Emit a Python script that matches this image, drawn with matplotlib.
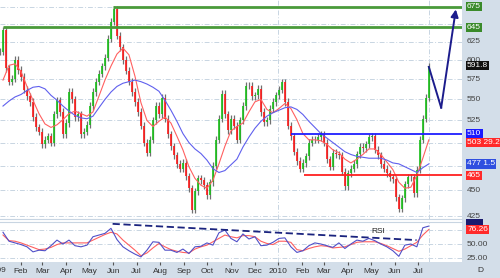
import numpy as np
import pandas as pd
import matplotlib
matplotlib.use('Agg')
import matplotlib.pyplot as plt
import matplotlib.dates as mdates
from matplotlib.patches import Rectangle
from matplotlib.ticker import NullLocator
from matplotlib.transforms import blended_transform_factory

plt.rcParams['font.family'] = ['Liberation Sans', 'DejaVu Sans']

# daily-ish closes (Jan 2009 - mid Jul 2010)
closes = [611, 641, 589, 572, 576, 600, 587, 578, 562, 554, 547, 529,
          517, 512, 498, 503, 507, 500, 532, 549, 535, 509, 522, 559,
          550, 529, 532, 509, 512, 520, 542, 559, 572, 582, 592, 603,
          629, 653, 671, 633, 617, 600, 586, 572, 559, 547, 535, 519,
          500, 489, 503, 525, 542, 532, 552, 527, 509, 496, 486, 477,
          472, 478, 464, 452, 431, 449, 462, 460, 455, 445, 458, 475,
          503, 527, 557, 532, 514, 527, 519, 503, 525, 542, 567, 567,
          554, 555, 563, 535, 523, 525, 539, 547, 555, 562, 571, 547,
          519, 507, 490, 480, 472, 478, 485, 500, 503, 503, 506, 509,
          500, 482, 474, 489, 487, 486, 469, 454, 467, 472, 477, 487,
          495, 494, 498, 506, 507, 492, 486, 477, 472, 467, 463, 461,
          443, 432, 442, 456, 463, 463, 447, 471, 503, 527, 552, 591.8]
dates = pd.date_range('2009-01-05', '2010-07-15', periods=len(closes))

# moving averages and RSI, sampled every second bar
ma_fast = [574, 593, 595, 585, 566, 549, 533, 521, 517, 520, 526, 533,
           536, 533, 530, 535, 554, 574, 592, 608, 616, 607, 579, 546,
           525, 518, 524, 529, 522, 507, 492, 474, 462, 455, 452, 460,
           477, 496, 513, 518, 522, 535, 547, 550, 538, 534, 539, 545,
           539, 526, 510, 503, 503, 502, 498, 492, 489, 482, 478, 482,
           487, 493, 493, 487, 479, 471, 458, 452, 453, 465, 483, 503]
ma_slow = [542, 548, 553, 556, 561, 565, 566, 563, 555, 549, 542, 536,
           531, 528, 527, 530, 540, 550, 559, 566, 570, 572, 574, 572,
           569, 565, 560, 549, 537, 524, 510, 500, 493, 488, 481, 472,
           468, 470, 476, 482, 495, 506, 516, 524, 530, 534, 537, 540,
           541, 538, 532, 524, 517, 510, 505, 500, 495, 490, 487, 485,
           484, 483, 483, 483, 481, 478, 477, 474, 471, 468, 473, 477]
rsi = [71, 55, 52, 49, 45, 36, 39, 38, 47, 57, 50, 57,
       47, 45, 48, 63, 66, 69, 78, 58, 45, 38, 32, 27,
       39, 54, 53, 39, 39, 35, 41, 33, 45, 46, 52, 48,
       70, 75, 60, 54, 68, 59, 63, 47, 48, 53, 60, 61,
       45, 35, 38, 47, 52, 50, 47, 44, 52, 42, 50, 57,
       55, 60, 56, 50, 45, 38, 28, 48, 50, 45, 79, 82]
rsi_signal = [66, 56, 55, 52, 48, 44, 40, 41, 44, 49, 52, 52,
              52, 52, 52, 57, 62, 67, 71, 68, 57, 48, 39, 29,
              34, 43, 51, 45, 40, 37, 35, 34, 41, 45, 48, 54,
              60, 66, 63, 61, 65, 65, 63, 55, 51, 49, 55, 55,
              53, 40, 38, 42, 45, 47, 46, 43, 44, 45, 49, 53,
              54, 54, 54, 51, 47, 42, 37, 41, 47, 53, 66, 76]
ind_dates = dates[1::2]

# support / resistance levels
level_values = [675, 645, 510, 465]
level_start = ['2009-06-01', '2009-01-09', '2010-01-17', '2010-02-03']
level_colors = ['#4a9a3a', '#4a9a3a', '#1f1fff', '#ff2020']
level_widths = [2.0, 2.0, 1.3, 1.3]

# projected path
proj_dates = ['2010-07-15', '2010-07-31', '2010-08-19']
proj_prices = [591, 540, 671]

# RSI trend line
rsi_trend_dates = ['2009-05-31', '2010-06-29']
rsi_trend_vals = [86, 57]

price_ticks = [625, 600, 575, 550, 525, 500, 450, 425]
month_labels = ['2009', 'Feb', 'Mar', 'Apr', 'May', 'Jun', 'Jul', 'Aug', 'Sep',
                'Oct', 'Nov', 'Dec', '2010', 'Feb', 'Mar', 'Apr', 'May', 'Jun', 'Jul']

W, H = 500, 278
band = '#d3dee9'
grid_c = '#c8d5e2'
dashdot = (0, (5, 2, 1, 2))
fs = 6

fig = plt.figure(figsize=(W / 100, H / 100), dpi=100)
fig.patches.append(Rectangle((462 / W, 0), 38 / W, 1, transform=fig.transFigure,
                             fc=band, ec='none', zorder=-5))
fig.patches.append(Rectangle((0, 0), 1, 16 / H, transform=fig.transFigure,
                             fc=band, ec='none', zorder=-5))

ax = fig.add_axes([0, 59 / H, 462 / W, 219 / H])
ax2 = fig.add_axes([0, 16 / H, 462 / W, 40 / H], sharex=ax)

xmin = mdates.date2num(pd.Timestamp('2009-01-05'))
xmax = mdates.date2num(pd.Timestamp('2010-08-27'))

# ---- price panel
ax.set_yscale('log')
ax.set_ylim(422.3, 685.1)
ax.set_xlim(xmin, xmax)
ax.yaxis.set_major_locator(NullLocator())
ax.yaxis.set_minor_locator(NullLocator())
for p in range(425, 700, 25):
    ax.axhline(p, color=grid_c, lw=0.7, ls=dashdot, zorder=0)
ax.axvline(pd.Timestamp('2010-01-01'), color=grid_c, lw=0.7, ls=dashdot, zorder=0)
ax.axvline(dates[-1], color=grid_c, lw=0.7, ls=dashdot, zorder=0)

c = np.array(closes, dtype=float)
o = np.concatenate([[c[0]], c[:-1]])
hi = np.maximum(o, c) * 1.008
lo = np.minimum(o, c) * 0.992
up = c >= o
ax.vlines(dates, lo, hi, color='#707070', lw=0.9, zorder=2)
ax.vlines(dates[up], o[up], c[up], color='#18c018', lw=1.2, zorder=3)
ax.vlines(dates[~up], o[~up], c[~up], color='#ff1818', lw=1.2, zorder=3)

ax.plot(ind_dates, ma_fast, color='#ff6060', lw=0.8, zorder=4)
ax.plot(ind_dates, ma_slow, color='#6060ee', lw=0.8, zorder=4)

for v, s, col, w in zip(level_values, level_start, level_colors, level_widths):
    ax.hlines(v, pd.Timestamp(s), xmax, color=col, lw=w, zorder=5)

pd_dates = pd.to_datetime(proj_dates)
ax.plot(pd_dates[:2], proj_prices[:2], color='#1c1c8c', lw=1.4, zorder=6)
ax.annotate('', xy=(pd_dates[2], proj_prices[2]), xytext=(pd_dates[1], proj_prices[1]),
            arrowprops=dict(arrowstyle='-|>', color='#1c1c8c', lw=1.4,
                            mutation_scale=11, shrinkA=0, shrinkB=0), zorder=6)

for s in ['top', 'left', 'right']:
    ax.spines[s].set_visible(False)
ax.spines['bottom'].set_color(grid_c)
ax.tick_params(axis='x', which='both', bottom=False, labelbottom=False)

tr = blended_transform_factory(ax.transAxes, ax.transData)
for p in price_ticks:
    ax.text(1.011, p, str(p), transform=tr, fontsize=fs, color='#444444',
            va='center', ha='left', clip_on=False, zorder=8)


def box(axis, y, txt, fc, tc='white'):
    t = blended_transform_factory(axis.transAxes, axis.transData)
    axis.text(1.011, y, txt, transform=t, fontsize=fs, color=tc, va='center', ha='left',
              clip_on=False, zorder=10,
              bbox=dict(boxstyle='square,pad=0.15', fc=fc, ec='none'))


box(ax, 675, '675', '#3a8a2a')
box(ax, 645, '645', '#3a8a2a')
box(ax, 593, '591.8', '#111111')
box(ax, 510, '510', '#1a1aff')
box(ax, 500, '503 29.25', '#ff2a2a')
box(ax, 477, '477 1.5', '#2f4fe0')
box(ax, 465, '465', '#ff2a2a')

# ---- RSI panel
ax2.set_ylim(17.9, 89.3)
ax2.yaxis.set_major_locator(NullLocator())
for r in [25, 50, 75]:
    ax2.axhline(r, color=grid_c, lw=0.7, ls=dashdot, zorder=0)
ax2.axvline(pd.Timestamp('2010-01-01'), color=grid_c, lw=0.7, ls=dashdot, zorder=0)
ax2.axvline(dates[-1], color=grid_c, lw=0.7, ls=dashdot, zorder=0)
ax2.plot(ind_dates, rsi_signal, color='#ff6060', lw=0.8, zorder=3)
ax2.plot(ind_dates, rsi, color='#5050c8', lw=0.8, zorder=4)
ax2.plot(pd.to_datetime(rsi_trend_dates), rsi_trend_vals, color='#1a237e', lw=1.3,
         ls=(0, (4, 2)), zorder=5)
ax2.text(pd.Timestamp('2010-05-11'), 73, 'RSI', fontsize=fs, color='#222222',
         ha='center', va='center')

for s in ['bottom', 'left', 'right']:
    ax2.spines[s].set_visible(False)
ax2.spines['top'].set_color(grid_c)

tr2 = blended_transform_factory(ax2.transAxes, ax2.transData)
for r in [50, 25]:
    ax2.text(1.011, r, '%.2f' % r, transform=tr2, fontsize=fs, color='#444444',
             va='center', ha='left', clip_on=False, zorder=8)
box(ax2, 86, '      ', '#1a1a6e')
box(ax2, 76.26, '76.26', '#ff2a2a')

months = pd.date_range('2009-01-01', '2010-07-01', freq='MS')
ax2.set_xlim(xmin, xmax)
ax2.set_xticks(months[1:])
ax2.set_xticklabels(month_labels[1:])
ax2.tick_params(axis='x', length=2, width=0.8, color='#555555', pad=2,
                labelsize=fs, labelcolor='#333333')
tr3 = blended_transform_factory(ax2.transData, ax2.transAxes)
ax2.text(mdates.date2num(months[0]), -0.2, month_labels[0], transform=tr3,
         fontsize=fs, color='#333333', ha='center', va='center', clip_on=False)
fig.text(480 / W, 8 / H, 'D', fontsize=fs, color='#333333', ha='center', va='center')

fig.savefig('out.png', dpi=100)
